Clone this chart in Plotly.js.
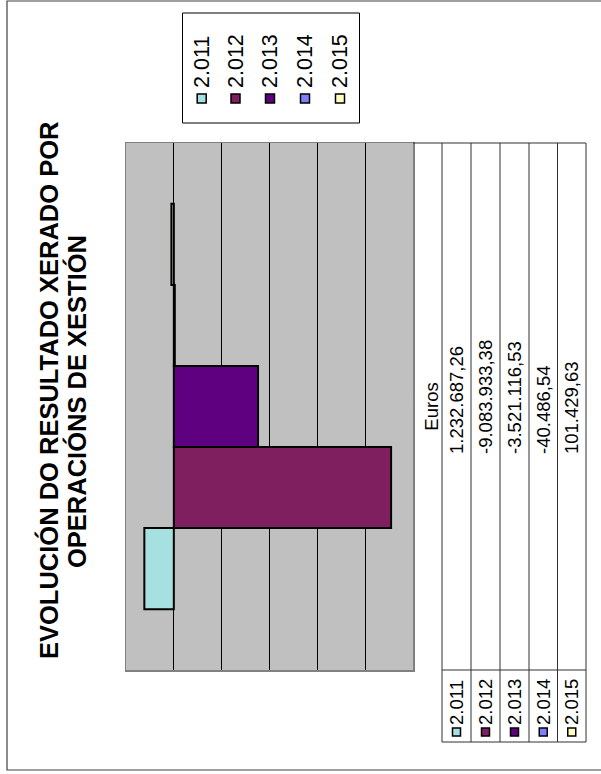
<!DOCTYPE html>
<html><head><meta charset="utf-8">
<script src="https://cdn.plot.ly/plotly-3.0.1.min.js"></script>
<style>
html,body{margin:0;padding:0;overflow:hidden;background:#fff}
#wrap{position:relative;width:601px;height:774px;overflow:hidden}
#chart{position:absolute;left:0;top:0;width:774px;height:601px;transform-origin:0 0;transform:translateY(774px) rotate(-90deg)}
</style></head><body>
<div id="wrap"><div id="chart"></div></div>
<script>
// ---- data ----
const category = ['Euros'];
const seriesNames = ['2.011', '2.012', '2.013', '2.014', '2.015'];
const seriesValues = [1232687.26, -9083933.38, -3521116.53, -40486.54, 101429.63];
const valueLabels = ['1.232.687,26', '-9.083.933,38', '-3.521.116,53', '-40.486,54', '101.429,63'];
const seriesColors = ['#A6E0E0', '#7F1F5F', '#5F0080', '#8080FF', '#FFFFC0'];
const titleLines = ['EVOLUCIÓN DO RESULTADO XERADO POR', 'OPERACIÓNS DE XESTIÓN'];
const valueRange = [-10000000, 2000000];
const valueStep = 2000000;

// ---- geometry (unrotated chart, 774 x 601) ----
const W = 774, H = 601;
const FONT = 'Arial, "Liberation Sans", sans-serif';
const px = ox => ox / W;
const py = oy => 1 - oy / H;
const plotL = 104, plotR = 631, plotT = 126, plotB = 413;
const tabRowHeaderL = 32;
const rowEdges = [442, 471, 500, 529, 557.5, 586];
const lineCol = '#303030';

const traces = seriesNames.map((n, i) => ({
  type: 'bar', name: n, x: category, y: [seriesValues[i]],
  marker: {color: seriesColors[i], line: {color: '#000', width: 2}},
  showlegend: false, hoverinfo: 'skip'
}));

const shapes = [];
const annotations = [];

// outer frame
shapes.push({type: 'rect', xref: 'paper', yref: 'paper', x0: px(4), x1: px(773), y0: py(610), y1: py(7),
  line: {color: '#404040', width: 1.2}, fillcolor: 'rgba(0,0,0,0)', layer: 'below'});

// data table lines
rowEdges.forEach(oy => shapes.push({type: 'line', xref: 'paper', yref: 'paper',
  x0: px(tabRowHeaderL), x1: px(plotR), y0: py(oy), y1: py(oy), line: {color: lineCol, width: 1}}));
[tabRowHeaderL, plotL].forEach(ox => shapes.push({type: 'line', xref: 'paper', yref: 'paper',
  x0: px(ox), x1: px(ox), y0: py(rowEdges[0]), y1: py(rowEdges[rowEdges.length - 1]), line: {color: lineCol, width: 1}}));
shapes.push({type: 'line', xref: 'paper', yref: 'paper', x0: px(plotR), x1: px(plotR),
  y0: py(plotB), y1: py(rowEdges[rowEdges.length - 1]), line: {color: lineCol, width: 1}});

// table rows: key + series name + value
seriesNames.forEach((n, i) => {
  const cy = (rowEdges[i] + rowEdges[i + 1]) / 2;
  shapes.push({type: 'rect', xref: 'paper', yref: 'paper', x0: px(38), x1: px(46), y0: py(cy + 4), y1: py(cy - 4),
    fillcolor: seriesColors[i], line: {color: '#000', width: 1.5}});
  annotations.push({xref: 'paper', yref: 'paper', x: px(48.5), y: py(cy), xanchor: 'left', yanchor: 'middle',
    text: n, showarrow: false, borderpad: 0, borderwidth: 0, font: {family: FONT, size: 18.5, color: '#000'}});
  annotations.push({xref: 'paper', yref: 'paper', x: px(320), y: py(cy), xanchor: 'left', yanchor: 'middle',
    text: valueLabels[i], showarrow: false, borderpad: 0, borderwidth: 0, font: {family: FONT, size: 18.5, color: '#000'}});
});

// legend box
const legL = 651, legR = 761, legT = 182.5, legB = 359.5;
shapes.push({type: 'rect', xref: 'paper', yref: 'paper', x0: px(legL), x1: px(legR), y0: py(legB), y1: py(legT),
  line: {color: '#000', width: 1}, fillcolor: '#fff'});
const legItemY = [201.7, 235.5, 270, 305, 340];
seriesNames.forEach((n, i) => {
  const cy = legItemY[i];
  shapes.push({type: 'rect', xref: 'paper', yref: 'paper', x0: px(671), x1: px(680), y0: py(cy + 4.5), y1: py(cy - 4.5),
    fillcolor: seriesColors[i], line: {color: '#000', width: 1.5}});
  annotations.push({xref: 'paper', yref: 'paper', x: px(686), y: py(cy), xanchor: 'left', yanchor: 'middle',
    text: n, showarrow: false, borderpad: 0, borderwidth: 0, font: {family: FONT, size: 21.5, color: '#000'}});
});

// title (two lines)
annotations.push({xref: 'paper', yref: 'paper', x: px(383.5), y: py(48.5), xanchor: 'center', yanchor: 'middle',
  text: '<b>' + titleLines[0] + '</b>', showarrow: false, borderpad: 0, borderwidth: 0, font: {family: FONT, size: 25.5, color: '#000'}});
annotations.push({xref: 'paper', yref: 'paper', x: px(372), y: py(76.5), xanchor: 'center', yanchor: 'middle',
  text: '<b>' + titleLines[1] + '</b>', showarrow: false, borderpad: 0, borderwidth: 0, font: {family: FONT, size: 25.5, color: '#000'}});

const layout = {
  width: W, height: H,
  margin: {l: 0, r: 0, t: 0, b: 0, pad: 0},
  paper_bgcolor: '#fff', plot_bgcolor: '#C0C0C0',
  barmode: 'group', bargap: 0.2308, bargroupgap: 0,
  showlegend: false,
  xaxis: {domain: [px(plotL), px(plotR)], type: 'category', range: [-0.5, 0.5],
    showgrid: false, zeroline: false, showline: true, mirror: true, linecolor: '#808080', linewidth: 1.5,
    ticks: '', ticklabelstandoff: 1, tickfont: {family: FONT, size: 18.5, color: '#000'}, fixedrange: true},
  yaxis: {domain: [py(plotB), py(plotT)], range: valueRange, tick0: 0, dtick: valueStep,
    showgrid: true, gridcolor: '#000', gridwidth: 1, zeroline: true, zerolinecolor: '#000', zerolinewidth: 1,
    showticklabels: false, ticks: '', showline: true, mirror: true, linecolor: '#808080', linewidth: 1.5, fixedrange: true},
  shapes: shapes,
  annotations: annotations
};

Plotly.newPlot('chart', traces, layout, {staticPlot: true, displayModeBar: false});
</script>
</body></html>
